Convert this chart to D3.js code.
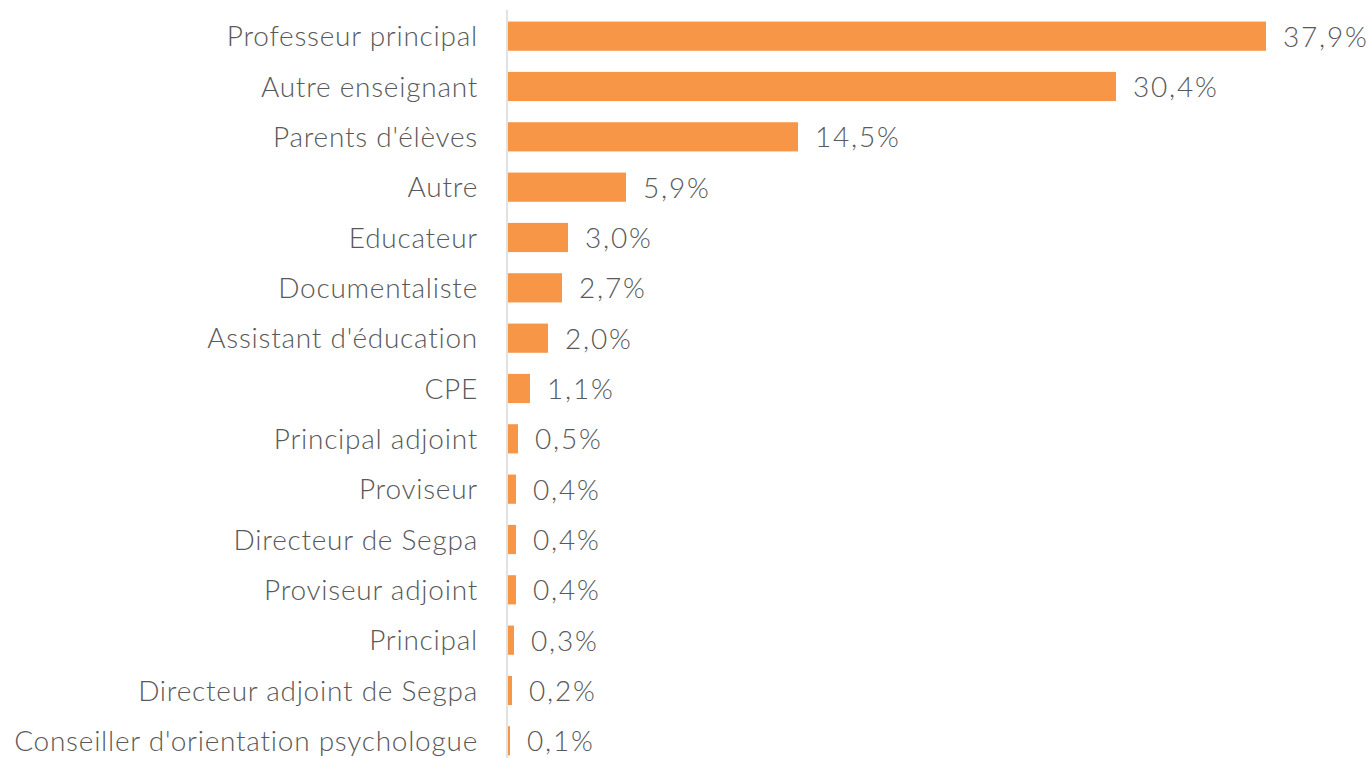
<!DOCTYPE html>
<html>
<head>
<meta charset="utf-8">
<script src="https://cdn.jsdelivr.net/npm/d3@7"></script>
<style>
  body { margin: 0; background: #fff; }
  text { font-family: "Lato", "Open Sans", sans-serif; font-weight: 300; fill: #595959; }
</style>
</head>
<body>
<div id="chart"></div>
<script>
var categories = ["Professeur principal", "Autre enseignant", "Parents d'élèves", "Autre",
  "Educateur", "Documentaliste", "Assistant d'éducation", "CPE", "Principal adjoint",
  "Proviseur", "Directeur de Segpa", "Proviseur adjoint", "Principal",
  "Directeur adjoint de Segpa", "Conseiller d'orientation psychologue"];
var values = [37.9, 30.4, 14.5, 5.9, 3.0, 2.7, 2.0, 1.1, 0.5, 0.4, 0.4, 0.4, 0.3, 0.2, 0.1];

var width = 1371, height = 758;
var svg = d3.select("#chart").append("svg")
  .attr("width", width).attr("height", height);

var x = d3.scaleLinear().domain([0, 40]).range([508, 1308]);
var y = d3.scaleBand().domain(categories).range([11, 766])
  .paddingInner(0.42).paddingOuter(0.21);

var fmt = function(v){ return d3.format(".1f")(v).replace(".", ",") + "%"; };

svg.selectAll(".bar")
  .data(values)
  .enter().append("rect")
  .attr("class", "bar")
  .attr("x", x(0))
  .attr("y", function(d, i){ return y(categories[i]); })
  .attr("width", function(d){ return x(d) - x(0); })
  .attr("height", y.bandwidth())
  .attr("fill", "#f79646");

// axe vertical
svg.append("line")
  .attr("x1", x(0) - 1).attr("x2", x(0) - 1)
  .attr("y1", 10).attr("y2", height)
  .attr("stroke", "#d9d9d9").attr("stroke-width", 1.5);

svg.selectAll(".cat")
  .data(categories)
  .enter().append("text")
  .attr("class", "cat")
  .attr("x", x(0) - 30)
  .attr("y", function(d){ return y(d) + y.bandwidth() / 2; })
  .attr("dy", "0.36em")
  .attr("text-anchor", "end")
  .style("font-size", "28px")
  .style("letter-spacing", "0.75px")
  .text(function(d){ return d; });

svg.selectAll(".val")
  .data(values)
  .enter().append("text")
  .attr("class", "val")
  .attr("x", function(d){ return x(d) + 17; })
  .attr("y", function(d, i){ return y(categories[i]) + y.bandwidth() / 2; })
  .attr("dy", "0.38em")
  .style("font-size", "28px")
  .style("letter-spacing", "1.8px")
  .text(fmt);
</script>
</body>
</html>
